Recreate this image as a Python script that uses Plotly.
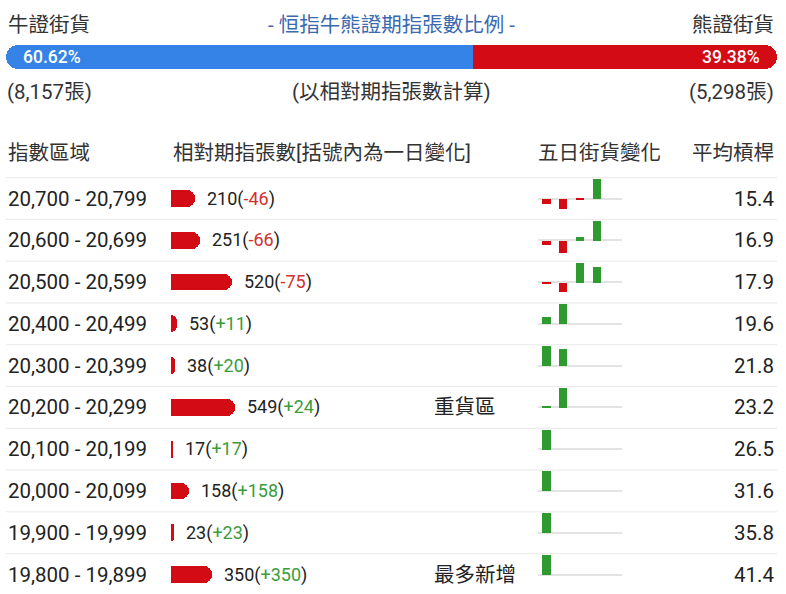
import plotly.graph_objects as go

W, H = 786, 594

# bull / bear outstanding (contracts, futures equivalent)
bull_count = 8157
bear_count = 5298

ranges = [
    "20,700 - 20,799", "20,600 - 20,699", "20,500 - 20,599", "20,400 - 20,499",
    "20,300 - 20,399", "20,200 - 20,299", "20,100 - 20,199", "20,000 - 20,099",
    "19,900 - 19,999", "19,800 - 19,899",
]
contracts = [210, 251, 520, 53, 38, 549, 17, 158, 23, 350]
day_change = [-46, -66, -75, 11, 20, 24, 17, 158, 23, 350]
leverage = [15.4, 16.9, 17.9, 19.6, 21.8, 23.2, 26.5, 31.6, 35.8, 41.4]
notes = ["", "", "", "", "", "重貨區", "", "", "", "最多新增"]

# five-day change, relative to each row's largest move
five_day = [
    [-0.26, -0.56, -0.10, 1.0],
    [-0.22, -0.63, 0.17, 1.0],
    [-0.09, -0.50, 1.0, 0.79],
    [0.31, 1.0],
    [1.0, 0.85],
    [0.07, 1.0],
    [1.0],
    [1.0],
    [1.0],
    [1.0],
]

BLUE = "#3583e6"
RED = "#d30b14"
GREEN = "#2f9a2f"
TXT_RED = "#d32f2f"
TXT_GREEN = "#3a9c3a"
DARK = "#222222"
FONT = "Roboto, 'Noto Sans CJK TC', sans-serif"
BIG = 20.5
SMALL = 18


def fx(px):
    return px / W


def fy(py):
    return 1 - py / H


# row geometry (pixels)
ROW0 = 198.5
ROW_H = 41.78
TABLE_TOP = 177
r_top = (TABLE_TOP - ROW0) / ROW_H
r_bot = (H - ROW0) / ROW_H
PX_PER_CONTRACT = 0.1166

fig = go.Figure()

# ---- top ratio bar ----
total = bull_count + bear_count
bull_pct = bull_count / total * 100
bear_pct = 100 - bull_pct


def ratio_bar(base, length, color, radius):
    fig.add_trace(go.Bar(
        y=[0], x=[length], base=[base], orientation="h", width=1,
        marker=dict(color=color, cornerradius=radius, line_width=0),
        xaxis="x", yaxis="y", hoverinfo="skip",
    ))


ratio_bar(bull_pct, -bull_pct, BLUE, 12)   # rounded at the left end
ratio_bar(bull_pct, bear_pct, RED, 12)     # rounded at the right end
# square pieces so the join between the two stays straight
ratio_bar(bull_pct - 5, 5, BLUE, 0)
ratio_bar(bull_pct, 5, RED, 0)

# ---- contracts per range ----
rows = list(range(len(ranges)))
fig.add_trace(go.Bar(
    y=rows, x=contracts, orientation="h", width=0.4,
    marker=dict(color=RED, cornerradius=8, line_width=0),
    xaxis="x2", yaxis="y2", hoverinfo="skip",
))

# ---- five-day mini bars ----
for i, vals in enumerate(five_day):
    fig.add_trace(go.Bar(
        x=list(range(1, len(vals) + 1)), y=vals, width=0.5,
        marker=dict(color=[GREEN if v > 0 else RED for v in vals], line_width=0),
        xaxis="x3", yaxis=f"y{4 + i}", hoverinfo="skip",
    ))

ann = []


def text(x, y, s, size=BIG, color=DARK, xanchor="left", xref="paper", yref="paper", weight=None, xshift=0):
    font = dict(size=size, color=color, family=FONT)
    if weight:
        font["weight"] = weight
    ann.append(dict(x=x, y=y, text=s, xref=xref, yref=yref, xanchor=xanchor,
                    yanchor="middle", showarrow=False, font=font, xshift=xshift))


# header texts
text(fx(6), fy(25), "牛證街貨", color="#333333")
text(fx(391), fy(25), "- 恒指牛熊證期指張數比例 -", color="#3a6ab0", xanchor="center")
text(fx(776), fy(25), "熊證街貨", color="#333333", xanchor="right")
text(0, 0, f"{bull_pct:.2f}%", size=17.5, color="white", xref="x", yref="y",
     xshift=15, weight=500)
text(100, 0, f"{bear_pct:.2f}%", size=17.5, color="white", xanchor="right", xref="x", yref="y",
     xshift=-15, weight=500)
text(fx(5), fy(92), f"({bull_count:,}張)", color="#333333")
text(fx(391), fy(92), "(以相對期指張數計算)", color="#333333", xanchor="center")
text(fx(776), fy(92), f"({bear_count:,}張)", color="#333333", xanchor="right")

# column headers
text(fx(6), fy(153), "指數區域", color="#333333")
text(fx(171), fy(153), "相對期指張數[括號內為一日變化]", color="#333333")
text(fx(536), fy(153), "五日街貨變化", color="#333333")
text(fx(776), fy(153), "平均槓桿", color="#333333", xanchor="right")

# row texts
for i in rows:
    text(fx(6), i, ranges[i], yref="y2")
    text(fx(776), i, f"{leverage[i]:.1f}", yref="y2", xanchor="right")
    c = day_change[i]
    col = TXT_GREEN if c > 0 else TXT_RED
    text(contracts[i], i,
         f"{contracts[i]}(<span style='color:{col}'>{c:+d}</span>)",
         size=SMALL, xref="x2", yref="y2", xshift=10)
    if notes[i]:
        text(fx(432), i, notes[i], yref="y2")

# row separators
shapes = []
for i in rows:
    shapes.append(dict(type="line", xref="paper", yref="y2", x0=fx(6), x1=fx(777),
                       y0=i - 0.5, y1=i - 0.5, line=dict(color="#e9e9e9", width=1),
                       layer="below"))

hidden = dict(visible=False, fixedrange=True)
layout = dict(
    width=W, height=H, margin=dict(l=0, r=0, t=0, b=0),
    paper_bgcolor="white", plot_bgcolor="rgba(0,0,0,0)",
    showlegend=False, barmode="overlay", bargap=0,
    font=dict(family=FONT, color=DARK),
    xaxis=dict(domain=[fx(6), fx(777)], range=[0, 100], anchor="y", **hidden),
    yaxis=dict(domain=[fy(69), fy(45)], range=[-0.5, 0.5], anchor="x", **hidden),
    xaxis2=dict(domain=[fx(171), 1], range=[0, (W - 171) / PX_PER_CONTRACT], anchor="y2", **hidden),
    yaxis2=dict(domain=[0, fy(TABLE_TOP)], range=[r_bot, r_top], anchor="x2", **hidden),
    xaxis3=dict(domain=[fx(538), fx(622)], range=[0.5, 5.5], anchor="y4", **hidden),
    annotations=ann, shapes=shapes,
)
MINI_MAX = 19.5
HALF = 20.5
for i in rows:
    yc = ROW0 + ROW_H * i
    top = yc - HALF
    bot = min(yc + HALF, H)
    layout[f"yaxis{4 + i}"] = dict(
        domain=[fy(bot), fy(top)],
        range=[-(bot - yc) / MINI_MAX, (yc - top) / MINI_MAX], anchor="x3",
        showticklabels=False, showgrid=False, showline=False, ticks="",
        zeroline=True, zerolinecolor="#e3e3e3", zerolinewidth=2,
        layer="below traces", fixedrange=True,
    )

fig.update_layout(**layout)
fig.write_html("out.html", config={"displayModeBar": False},
               post_script="document.body.style.margin = '0';")
